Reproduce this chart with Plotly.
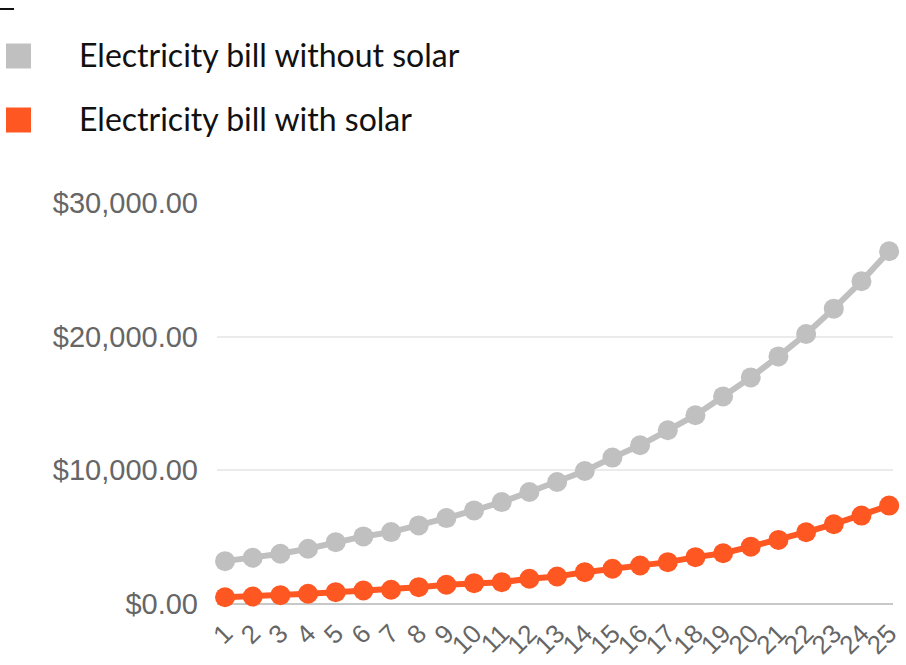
import plotly.graph_objects as go

years = list(range(1, 26))
year_labels = [str(y) for y in years]
bill_without_solar = [3206, 3461, 3760, 4135, 4629, 5056, 5378, 5880, 6427, 7004,
                      7625, 8375, 9124, 9948, 10951, 11873, 12996, 14120, 15528, 16951,
                      18524, 20202, 22097, 24142, 26390]
bill_with_solar = [509, 562, 659, 764, 884, 1011, 1064, 1258, 1438, 1558,
                   1633, 1888, 2060, 2382, 2637, 2884, 3131, 3506, 3798, 4292,
                   4794, 5371, 5970, 6614, 7363]
series_names = ["Electricity bill without solar", "Electricity bill with solar"]
series_colors = ["#c0c0c0", "#ff5722"]
y_ticks = [0, 10000, 20000, 30000]
y_tick_labels = ["$0.00", "$10,000.00", "$20,000.00", "$30,000.00"]

W, H = 906, 665
L, R, T, B = 217, 13, 203, 61
PW, PH = W - L - R, H - T - B

def px(x):
    return (x - L) / PW

def py(y):
    return (H - B - y) / PH

fig = go.Figure()
for name, vals, col in zip(series_names, [bill_without_solar, bill_with_solar], series_colors):
    fig.add_trace(go.Scatter(
        x=years, y=vals, name=name, mode="lines+markers",
        line=dict(color=col, width=6),
        marker=dict(color=col, size=20, line=dict(width=0)),
        showlegend=False, cliponaxis=False,
    ))

shapes = []
annotations = []
row_centers = [56, 120]
for name, col, cy in zip(series_names, series_colors, row_centers):
    shapes.append(dict(type="rect", xref="paper", yref="paper",
                       x0=px(6), x1=px(31), y0=py(cy + 12.5), y1=py(cy - 12.5),
                       fillcolor=col, line=dict(width=0)))
    annotations.append(dict(xref="paper", yref="paper", x=px(77), y=py(cy - 1),
                            xanchor="left", yanchor="middle", showarrow=False,
                            text=name, font=dict(family="Lato", size=32, color="#111111")))
shapes.append(dict(type="line", xref="paper", yref="paper",
                   x0=px(0), x1=px(14), y0=py(9), y1=py(9),
                   line=dict(color="#111111", width=2)))

fig.update_layout(
    width=W, height=H,
    margin=dict(l=L, r=R, t=T, b=B, pad=0, autoexpand=False),
    paper_bgcolor="white", plot_bgcolor="white",
    showlegend=False,
    shapes=shapes, annotations=annotations,
    xaxis=dict(
        range=[0.71, 25.14], tickmode="array", tickvals=years, ticktext=year_labels,
        tickangle=-45, tickfont=dict(family="Liberation Sans", size=26, color="#666666"),
        showgrid=False, zeroline=False, showline=False, ticks="", ticklabelstandoff=8,
        automargin=False,
    ),
    yaxis=dict(
        range=[0, 30000], tickmode="array", tickvals=y_ticks, ticktext=y_tick_labels,
        tickfont=dict(family="Liberation Sans", size=29, color="#666666"),
        showgrid=True, gridcolor="#ebebeb", gridwidth=2,
        zeroline=True, zerolinecolor="#c8c8c8", zerolinewidth=2,
        showline=False, ticks="", ticklabelstandoff=18, automargin=False,
    ),
)

fig.write_html("out.html", config={"displayModeBar": False},
               post_script="document.body.style.margin='0px';document.body.style.overflow='hidden';")
